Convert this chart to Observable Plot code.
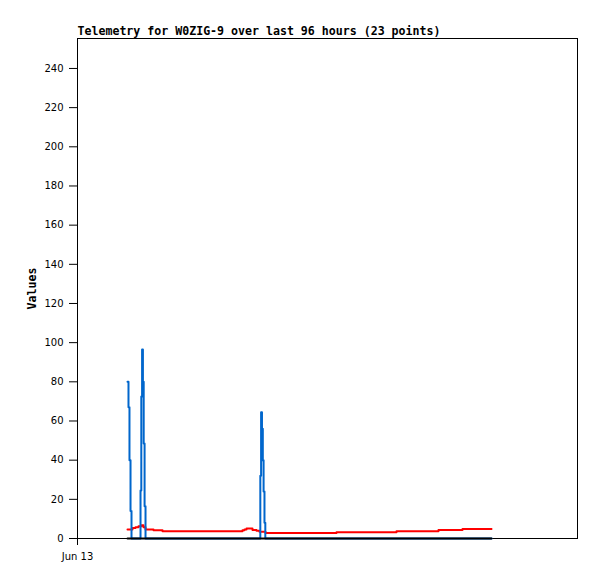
<!DOCTYPE html>
<html><head><meta charset="utf-8">
<script src="https://cdn.jsdelivr.net/npm/d3@7"></script>
<script src="https://cdn.jsdelivr.net/npm/@observablehq/plot@0.6"></script>
<style>body{margin:0;background:#fff}</style>
</head><body><div id="chart"></div>
<script>
const title = "Telemetry for W0ZIG-9 over last 96 hours (23 points)";
const yLabel = "Values";
const startTime = Date.parse("2024-06-13T00:00:00Z");
const spanHours = 96;
const yTicks = [0, 20, 40, 60, 80, 100, 120, 140, 160, 180, 200, 220, 240];
const yMax = 255.3;
const xTickLabels = ["Jun 13"];

// hours after Jun 13 00:00
const blueHours  = [9.60, 9.79, 9.98, 10.18, 10.37, 11.90, 12.10, 12.25, 12.40, 12.56, 12.71, 12.88, 13.06, 34.94, 35.10, 35.25, 35.42, 35.58, 35.73, 35.90, 36.06, 79.49];
const blueValues = [80,   67,   40,   14,    0,     0,     24.5,  72.5,  96.5,  80,    48.5,  16.5,  0,     0,     32,    64.5,  56,    40,    24,    8,     0,     0];

const redHours  = [9.60, 10.56, 11.14, 11.71, 12.29, 12.67, 13.06, 14.59, 16.32, 31.68, 32.06, 32.45, 33.60, 34.37, 34.94, 36.10, 49.73, 61.25, 69.31, 73.92, 79.49];
const redValues = [4.6,  5.3,   5.8,   6.3,   6.8,   5.8,   4.6,   4.2,   3.7,   4.2,   4.6,   5.1,   4.3,   3.9,   3.4,   2.8,   3.2,   3.7,   4.3,   4.8,   4.8];

const blackHours  = [9.60, 79.49];
const blackValues = [0, 0];

const toDate = h => new Date(startTime + h * 3600e3);
const mk = (hs, vs) => hs.map((h, i) => ({t: toDate(h), v: vs[i]}));
const blue = mk(blueHours, blueValues);
const red = mk(redHours, redValues);
const black = mk(blackHours, blackValues);

const chart = Plot.plot({
  width: 597,
  height: 579,
  marginLeft: 77,
  marginRight: 20,
  marginTop: 38,
  marginBottom: 41,
  style: {fontFamily: "DejaVu Sans", fontSize: "10px", background: "#fff", color: "#000"},
  x: {type: "utc", domain: [toDate(0), toDate(spanHours)]},
  y: {domain: [0, yMax]},
  marks: [
    Plot.axisY({ticks: yTicks, tickSize: 8, tickPadding: 6, label: null, fontSize: 10}),
    Plot.axisX({ticks: [toDate(0)], tickFormat: (d, i) => xTickLabels[i], tickSize: 7, tickPadding: 7, label: null, fontSize: 10}),
    Plot.frame({stroke: "#000"}),
    Plot.line(red, {x: "t", y: "v", stroke: "#ff0000", strokeWidth: 2, curve: "step-after"}),
    Plot.line(blue, {x: "t", y: "v", stroke: "#0066cc", strokeWidth: 2, curve: "step-after"}),
    Plot.line(black, {x: "t", y: "v", stroke: "#000", strokeWidth: 2}),
    Plot.text([title], {frameAnchor: "top-left", textAnchor: "start", lineAnchor: "bottom", dy: -4, fontFamily: "DejaVu Sans Mono", fontWeight: "bold", fontSize: 11.6, fill: "#000"}),
    Plot.text([yLabel], {frameAnchor: "left", rotate: -90, dx: -45, textAnchor: "middle", lineAnchor: "middle", fontFamily: "DejaVu Sans Mono", fontWeight: "bold", fontSize: 11.6, fill: "#000"})
  ]
});
document.getElementById("chart").appendChild(chart);
</script>
</body></html>
